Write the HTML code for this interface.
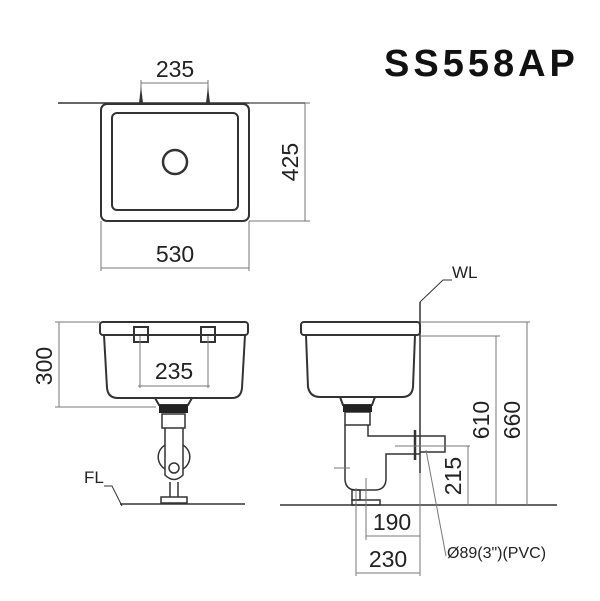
<!DOCTYPE html>
<html><head><meta charset="utf-8"><style>html,body{margin:0;padding:0;background:#fff}svg{display:block}</style></head>
<body>
<svg width="600" height="601" viewBox="0 0 600 601" xmlns="http://www.w3.org/2000/svg" font-family="Liberation Sans, sans-serif">
<rect width="600" height="601" fill="#fff"/>
<text x="384" y="76" font-size="38" font-weight="bold" fill="#111" letter-spacing="4">SS558AP</text>
<g fill="none" stroke="#333" stroke-width="2">
 <line x1="58" y1="103" x2="305" y2="103" stroke-width="1.5"/>
 <rect x="101" y="104" width="148" height="117" rx="6"/>
 <rect x="112" y="113" width="126" height="97" rx="5"/>
 <circle cx="175" cy="162" r="12" stroke-width="2.5"/>
</g>
<g stroke="#777" stroke-width="1" fill="none">
 <line x1="141" y1="83" x2="208" y2="83"/>
 <line x1="141" y1="80" x2="141" y2="103"/><line x1="208" y1="80" x2="208" y2="103"/>
 <line x1="249" y1="221" x2="310" y2="221"/><line x1="249" y1="103" x2="310" y2="103"/>
 <line x1="305" y1="103" x2="305" y2="221"/>
 <line x1="101" y1="221" x2="101" y2="271"/><line x1="249" y1="221" x2="249" y2="271"/>
 <line x1="101" y1="268" x2="249" y2="268"/>
</g>
<g fill="#333"><path d="M139 103 L141 86 L143 103Z"/><path d="M206 103 L208 86 L210 103Z"/></g>
<g font-size="23" fill="#222" text-anchor="middle">
 <text x="175" y="77">235</text>
 <text x="175" y="262">530</text>
 <text transform="translate(298,162) rotate(-90)">425</text>
</g>
<g fill="none" stroke="#333" stroke-width="2">
 <rect x="100" y="322" width="148" height="13" rx="3"/>
 <path d="M104 335 L107 388 Q108 398 118 398 L232 398 Q241 398 242 388 L245 335"/>
 <rect x="134" y="327" width="14" height="15"/><rect x="201" y="327" width="14" height="15"/>
 <path d="M155 398 L159 405 L188 405 L192 398"/>
 <rect x="162" y="414" width="23" height="14" stroke-width="1.5"/>
 <path d="M165 428 L165 475 Q174 484 183 475 L183 428" stroke-width="1.5"/>
 <path d="M165 445 A14 14 0 0 0 165 469 M183 445 A14 14 0 0 1 183 469" stroke-width="1.5"/>
 <circle cx="174" cy="468" r="5" stroke-width="1.5"/>
 <path d="M170 482 L170 497 M178 482 L178 497" stroke-width="1.5"/>
 <rect x="161" y="497" width="26" height="6" stroke-width="1.5"/>
 <line x1="120" y1="504" x2="245" y2="504" stroke-width="1.5"/>
</g>
<rect x="159" y="405" width="29" height="8" fill="#222"/>
<g stroke="#777" stroke-width="1" fill="none">
 <line x1="55" y1="322" x2="100" y2="322"/><line x1="55" y1="407" x2="156" y2="407"/>
 <line x1="59" y1="322" x2="59" y2="407"/>
 <line x1="140" y1="336" x2="140" y2="388"/><line x1="208" y1="336" x2="208" y2="388"/>
 <line x1="138" y1="386" x2="210" y2="386"/>
 <path d="M104 486 L112 486 L122 506" stroke="#333"/>
</g>
<g font-size="23" fill="#222" text-anchor="middle">
 <text x="174" y="379">235</text>
 <text transform="translate(52,366) rotate(-90)">300</text>
</g>
<text x="84" y="483" font-size="17" fill="#222">FL</text>
<g fill="none" stroke="#333" stroke-width="2">
 <rect x="301" y="322" width="119" height="13" rx="3"/>
 <path d="M306 335 L308 387 Q310 397 320 397 L402 397 Q412 397 413 387 L415 335"/>
 <path d="M340 397 L343 405 L372 405 L375 397"/>
 <rect x="345" y="412" width="25" height="13" stroke-width="1.5"/>
 <path d="M345 425 L345 480 Q346 490 356 490 L375 490 Q385 490 386 480 L386 454 L420 454 M368 425 L368 436 L445 436 L445 452 L420 452" stroke-width="1.5"/>
 <line x1="420" y1="302" x2="420" y2="473" stroke-width="1.5"/>
 <line x1="415" y1="430" x2="415" y2="460" stroke-width="2.5"/>
 <rect x="352" y="490" width="8" height="10" stroke-width="1.5"/>
 <rect x="352" y="500" width="28" height="5" stroke-width="1.5"/>
 <line x1="280" y1="505" x2="557" y2="505" stroke-width="1.5"/>
 <path d="M420 302 L443 280 L452 280" stroke-width="1"/>
</g>
<rect x="343" y="405" width="29" height="7" fill="#222"/>
<g stroke="#777" stroke-width="1" fill="none">
 <line x1="420" y1="322" x2="530" y2="322"/><line x1="420" y1="336" x2="500" y2="336"/>
 <line x1="395" y1="446" x2="470" y2="446"/>
 <line x1="527" y1="322" x2="527" y2="505"/>
 <line x1="496" y1="336" x2="496" y2="505"/>
 <line x1="468" y1="446" x2="468" y2="505"/>
 <line x1="356" y1="488" x2="356" y2="576"/><line x1="366" y1="478" x2="366" y2="540"/>
 <line x1="420" y1="473" x2="420" y2="576"/>
 <line x1="366" y1="536" x2="420" y2="536"/>
 <line x1="356" y1="573" x2="420" y2="573"/>
 <line x1="334" y1="468" x2="350" y2="468"/>
 <line x1="426" y1="450" x2="446" y2="556"/>
</g>
<g font-size="23" fill="#222" text-anchor="middle">
 <text x="392" y="530">190</text>
 <text x="388" y="567">230</text>
 <text transform="translate(489,420) rotate(-90)">610</text>
 <text transform="translate(520,420) rotate(-90)">660</text>
 <text transform="translate(461,476) rotate(-90)">215</text>
</g>
<text x="452" y="278" font-size="17" fill="#222">WL</text>
<text x="447" y="558" font-size="16" fill="#222">Ø89(3")(PVC)</text>
</svg>
</body></html>
